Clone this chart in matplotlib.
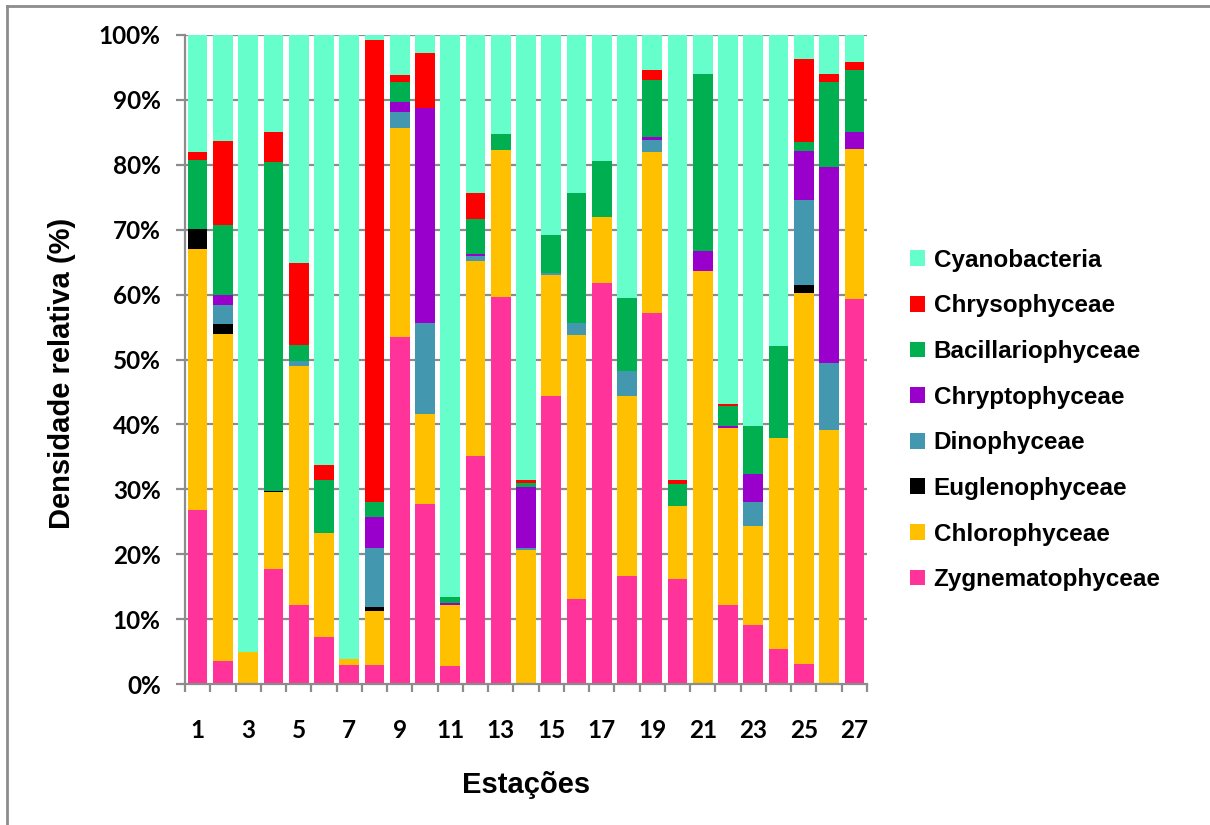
import matplotlib
matplotlib.use("Agg")
import matplotlib.pyplot as plt
import numpy as np
from matplotlib.patches import Patch
from matplotlib.lines import Line2D

stations = [str(i) for i in range(1, 28)]

zygnematophyceae = [26.8, 3.5, 0.0, 17.7, 12.2, 7.2, 2.9, 2.9, 53.4, 27.7, 2.8, 35.2, 59.6, 0.0,
                    44.4, 13.1, 61.8, 16.6, 57.1, 16.2, 0.0, 12.2, 9.1, 5.4, 3.1, 0.0, 59.3]
chlorophyceae = [40.2, 50.5, 5.0, 11.9, 36.8, 16.1, 1.0, 8.3, 32.3, 13.9, 9.3, 30.0, 22.7, 20.6,
                 18.6, 40.6, 10.2, 27.8, 24.8, 11.2, 63.6, 27.2, 15.2, 32.5, 57.1, 39.2, 23.2]
euglenophyceae = [3.1, 1.5, 0.0, 0.2, 0.0, 0.0, 0.0, 0.6, 0.0, 0.0, 0.0, 0.0, 0.0, 0.0,
                  0.0, 0.0, 0.0, 0.0, 0.0, 0.0, 0.0, 0.0, 0.0, 0.0, 1.3, 0.0, 0.0]
dinophyceae = [0.0, 2.9, 0.0, 0.0, 0.7, 0.0, 0.0, 9.1, 2.5, 14.0, 0.0, 0.7, 0.0, 0.3,
               0.3, 1.9, 0.0, 3.8, 1.9, 0.0, 0.0, 0.0, 3.7, 0.0, 13.1, 10.3, 0.0]
chryptophyceae = [0.0, 1.5, 0.0, 0.0, 0.0, 0.0, 0.0, 4.9, 1.4, 33.2, 0.4, 0.3, 0.0, 9.5,
                  0.0, 0.0, 0.0, 0.0, 0.5, 0.0, 3.1, 0.4, 4.3, 0.0, 7.6, 30.2, 2.5]
bacillariophyceae = [10.6, 10.9, 0.0, 50.7, 2.5, 8.1, 0.0, 2.2, 3.2, 0.0, 0.9, 5.5, 2.4, 0.5,
                     5.9, 20.1, 8.6, 11.3, 8.8, 3.4, 27.3, 3.1, 7.5, 14.2, 1.3, 13.1, 9.6]
chrysophyceae = [1.2, 12.9, 0.0, 4.5, 12.7, 2.4, 0.0, 71.3, 1.0, 8.4, 0.0, 4.0, 0.0, 0.5,
                 0.0, 0.0, 0.0, 0.0, 1.5, 0.6, 0.0, 0.3, 0.0, 0.0, 12.8, 1.2, 1.3]
cyanobacteria = [18.1, 16.3, 95.0, 15.0, 35.1, 66.2, 96.1, 0.7, 6.2, 2.8, 86.6, 24.3, 15.3, 68.6,
                 30.8, 24.3, 19.4, 40.5, 5.4, 68.6, 6.0, 56.8, 60.2, 47.9, 3.7, 6.0, 4.1]

series = [
    ("Zygnematophyceae", zygnematophyceae, "#FF3399"),
    ("Chlorophyceae", chlorophyceae, "#FFC000"),
    ("Euglenophyceae", euglenophyceae, "#000000"),
    ("Dinophyceae", dinophyceae, "#4398AF"),
    ("Chryptophyceae", chryptophyceae, "#9900CC"),
    ("Bacillariophyceae", bacillariophyceae, "#00B050"),
    ("Chrysophyceae", chrysophyceae, "#FF0000"),
    ("Cyanobacteria", cyanobacteria, "#66FFCC"),
]

W, H = 1210, 825
fig = plt.figure(figsize=(W / 100, H / 100), dpi=100)
ax = fig.add_axes([185 / W, 1 - 684 / H, (867 - 185) / W, (684 - 35) / H])

x = np.arange(len(stations))
bottom = np.zeros(len(stations))
for name, vals, col in series:
    v = np.array(vals, dtype=float)
    ax.bar(x, v, bottom=bottom, width=0.78, color=col, linewidth=0, zorder=3)
    bottom += v

ax.set_xlim(-0.5, len(stations) - 0.5)
ax.set_ylim(0, 100)

grid_col = "#8C8C8C"
yt = np.arange(0, 101, 10)
ax.set_yticks(yt)
ax.set_yticklabels([f"{t}%" for t in yt])
for t in yt[1:]:
    ax.axhline(t, color=grid_col, lw=1.6, zorder=1)

ax.set_xticks(x[::2])
ax.set_xticklabels(stations[::2])
ax.set_xticks(np.arange(-0.5, len(stations), 1.0), minor=True)
ax.tick_params(axis="x", which="major", length=0, pad=25)
ax.tick_params(axis="x", which="minor", length=6, width=1.6, color=grid_col, direction="out")
ax.tick_params(axis="y", which="major", length=6.5, width=1.6, color=grid_col, pad=11)

for lab in ax.get_xticklabels() + ax.get_yticklabels():
    lab.set_fontfamily("Lato")
    lab.set_fontweight("bold")
    lab.set_fontsize(17.5)

for s in ["top", "right"]:
    ax.spines[s].set_visible(False)
for s in ["left", "bottom"]:
    ax.spines[s].set_color(grid_col)
    ax.spines[s].set_linewidth(1.6)
    ax.spines[s].set_zorder(4)

fig.text(62 / W, 1 - 373 / H, "Densidade relativa (%)", rotation=90, ha="center", va="center",
         fontsize=21, fontweight="bold", family="Liberation Sans")
fig.text(526 / W, 1 - 785 / H, "Estações", ha="center", va="center",
         fontsize=21, fontweight="bold", family="Liberation Sans")

handles = [Patch(facecolor=col, edgecolor="none") for name, vals, col in reversed(series)]
labels = [name for name, vals, col in reversed(series)]
fig.legend(handles, labels, loc="center left", bbox_to_anchor=(910 / W, 1 - 420 / H),
           frameon=False, prop={"family": "Liberation Sans", "weight": "bold", "size": 17.5},
           handlelength=0.62, handleheight=0.62, handletextpad=0.35, labelspacing=0.93,
           borderpad=0, borderaxespad=0)

fig.add_artist(Line2D([7 / W, 1], [1 - 6 / H, 1 - 6 / H], color="#8C8C8C", lw=2, transform=fig.transFigure))
fig.add_artist(Line2D([7 / W, 7 / W], [0, 1 - 6 / H], color="#8C8C8C", lw=2, transform=fig.transFigure))

fig.savefig("out.png", dpi=100)
